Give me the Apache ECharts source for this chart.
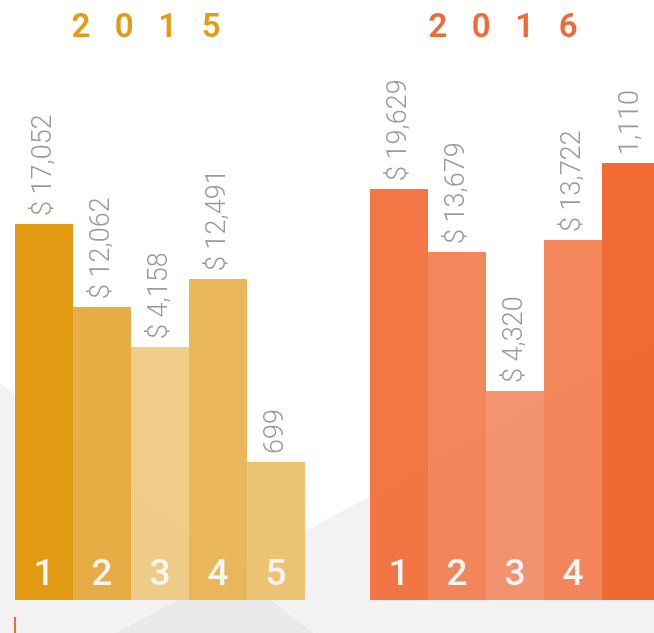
<!DOCTYPE html>
<html>
<head>
    <meta charset="utf-8">
    <title>ECharts</title>
    <style>
    html,body { height:100%; width:100%; margin:0; padding:0; background:white; overflow:hidden; }
    #main { width:660px; height:633px; }
    </style>
</head>
<body>
    <div id="main"></div>
    <script src="https://cdn.jsdelivr.net/npm/echarts@6/dist/echarts.min.js"></script>
    <script type="text/javascript">
    // data
    var years = ['2015', '2016'];
    var categories2015 = ['1', '2', '3', '4', '5'];
    var categories2016 = ['1', '2', '3', '4', ''];
    // labels printed above the bars
    var labels2015 = ['$ 17,052', '$ 12,062', '$ 4,158', '$ 12,491', '699'];
    var labels2016 = ['$ 19,629', '$ 13,679', '$ 4,320', '$ 13,722', '1,110'];
    // bar heights as drawn (the picture is not to scale with the labels)
    var heights2015 = [376, 293, 253, 321, 138];
    var heights2016 = [411, 348, 209, 360, 437];
    var colors2015 = ['#E19200', '#E5A735', '#EFC87F', '#E8B24C', '#EBBF68'];
    var colors2016 = ['#F16B35', '#F27C4D', '#F28B64', '#F27C4D', '#EF5D23'];

    // chart is 6px wider than the window: the last 2016 bar is cut off at the edge
    var myChart = echarts.init(document.getElementById('main'));

    function makeData(heights, colors) {
        return heights.map(function (h, i) {
            return { value: h, itemStyle: { color: colors[i] } };
        });
    }

    function spaced(s) {
        return s.split('').join('   ');
    }

    function valueLabel(texts) {
        return {
            show: true,
            position: 'top',
            rotate: 90,
            align: 'left',
            verticalAlign: 'middle',
            distance: 8,
            color: '#8F9296',
            fontFamily: 'Roboto',
            fontWeight: 300,
            fontSize: 27,
            formatter: function (p) { return texts[p.dataIndex]; }
        };
    }

    function xAxisFor(cats, idx) {
        return {
            type: 'category',
            gridIndex: idx,
            data: cats,
            z: 10,
            axisLine: { show: false },
            axisTick: { show: false },
            axisLabel: {
                inside: true,
                margin: 6,
                color: '#F5F5F5',
                fontFamily: 'Roboto',
                fontWeight: 500,
                fontSize: 37
            }
        };
    }

    function yAxisFor(idx) {
        return {
            type: 'value',
            gridIndex: idx,
            min: 0,
            max: 600,
            show: false,
            splitLine: { show: false }
        };
    }

    var options = {
        backgroundColor: '#ffffff',
        animation: false,
        grid: [
            { left: 15, top: 0, width: 290, height: 600 },
            { left: 370, top: 0, width: 290, height: 600 }
        ],
        xAxis: [xAxisFor(categories2015, 0), xAxisFor(categories2016, 1)],
        yAxis: [yAxisFor(0), yAxisFor(1)],
        graphic: [
            { type: 'polygon', z: 0, shape: { points: [[0, 383], [313, 633], [0, 633]] }, style: { fill: '#F2F2F2' } },
            { type: 'polygon', z: 0, shape: { points: [[116, 633], [660, 340], [660, 633]] }, style: { fill: '#F2F2F2' } },
            { type: 'polygon', z: 0, shape: { points: [[233, 570], [313, 633], [116, 633]] }, style: { fill: '#EAEAEA' } },
            { type: 'rect', z: 0, shape: { x: 14, y: 617, width: 2, height: 16 }, style: { fill: '#F06A35' } },
            { type: 'text', z: 5, x: 146, y: 29, style: { text: spaced(years[0]), textAlign: 'center', textVerticalAlign: 'middle', fill: '#E39C15', font: '600 33px Roboto' } },
            { type: 'text', z: 5, x: 503, y: 29, style: { text: spaced(years[1]), textAlign: 'center', textVerticalAlign: 'middle', fill: '#F06A35', font: '600 33px Roboto' } }
        ],
        series: [
            {
                type: 'bar',
                xAxisIndex: 0,
                yAxisIndex: 0,
                barWidth: '100%',
                barCategoryGap: 0,
                itemStyle: { opacity: 0.92 },
                label: valueLabel(labels2015),
                data: makeData(heights2015, colors2015)
            },
            {
                type: 'bar',
                xAxisIndex: 1,
                yAxisIndex: 1,
                barWidth: '100%',
                barCategoryGap: 0,
                itemStyle: { opacity: 0.92 },
                label: valueLabel(labels2016),
                data: makeData(heights2016, colors2016)
            }
        ]
    };

    myChart.setOption(options, true);
    </script>
</body>
</html>
